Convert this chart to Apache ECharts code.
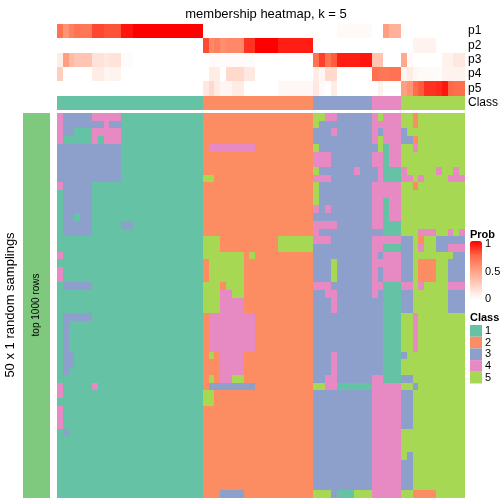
<!DOCTYPE html>
<html><head><meta charset="utf-8">
<script src="https://cdn.jsdelivr.net/npm/echarts@6/dist/echarts.min.js"></script>
<style>html,body{margin:0;padding:0;background:#fff}#c{width:504px;height:504px}</style>
</head><body><div id="c"></div>
<script>
const classColors = ['#66C2A5', '#FC8D62', '#8DA0CB', '#E78AC3', '#A6D854'];
const classLabels = ['1', '2', '3', '4', '5'];
const annRows = ['p1', 'p2', 'p3', 'p4', 'p5', 'Class'];
const probTicks = ['1', '0.5', '0'];
const probStops = ['#FFFFFF', '#FFCFBE', '#FF9E81', '#FF6846', '#FF0000'];

// membership probabilities per sample (70 samples)
const p1 = [0.7,0.55,0.65,0.7,0.68,0.68,0.83,0.83,0.8,0.8,0.8,0.95,0.95,1,1,1,1,1,1,1,1,1,1,1,1,
  0,0,0,0,0,0,0,0,0,0,0,0,0,0,0,0,0,0,0,
  0,0,0,0,0.03,0.03,0.03,0.03,0.03,0.03,
  0,0,0.5,0.4,0.4,
  0,0,0,0,0,0,0,0,0,0,0];
const p2 = [0,0,0,0,0,0,0,0,0,0,0,0,0,0,0,0,0,0,0,0,0,0,0,0,0,
  0.82,0.6,0.65,0.58,0.6,0.6,0.6,0.88,0.88,1,1,1,1,0.93,0.93,0.93,0.93,0.93,0.93,
  0,0,0,0,0,0,0,0,0,0,
  0,0,0,0,0,
  0,0,0.06,0.06,0.06,0.06,0,0,0,0,0];
const p3 = [0.1,0.5,0.35,0.3,0.3,0.3,0.15,0.15,0.12,0.15,0.15,0.02,0.02,0,0,0,0,0,0,0,0,0,0,0,0,
  0,0.02,0.02,0.02,0.02,0.02,0.02,0.02,0.02,0,0,0,0,0,0,0,0,0,0,
  0.7,0.85,0.7,0.78,0.93,0.93,0.93,0.93,0.95,0.95,
  0.3,0.3,0,0,0,
  0.45,0.03,0,0,0,0,0,0.07,0.07,0.12,0.12];
const p4 = [0.25,0,0,0,0,0,0.1,0.1,0.05,0.06,0.06,0,0,0,0,0,0,0,0,0,0,0,0,0,0,
  0,0.1,0.1,0,0.2,0.2,0.2,0.12,0.12,0,0,0,0,0,0,0,0,0,0,
  0.1,0.05,0.2,0.2,0,0,0,0,0,0,
  0.72,0.68,0.68,0.7,0.7,
  0.05,0.1,0.04,0.03,0.03,0.03,0.02,0.06,0.06,0.06,0.06];
const p5 = [0,0,0,0,0,0,0,0,0,0,0,0,0,0,0,0,0,0,0,0,0,0,0,0,0,
  0.12,0.2,0.1,0.05,0.05,0.1,0.1,0,0,0,0,0,0,0.04,0.04,0.04,0.04,0.04,0.04,
  0.12,0.03,0,0.1,0,0,0,0,0,0,
  0,0.06,0,0,0,
  0.5,0.55,0.72,0.78,0.88,0.88,0.9,0.95,0.75,0.72,0.72];
const sampleClass = [1,1,1,1,1,1,1,1,1,1,1,1,1,1,1,1,1,1,1,1,1,1,1,1,1,
  2,2,2,2,2,2,2,2,2,2,2,2,2,2,2,2,2,2,2,
  3,3,3,3,3,3,3,3,3,3,
  4,4,4,4,4,
  5,5,5,5,5,5,5,5,5,5,5];

// class assigned in each of the 50 random samplings (one digit per sample)
const samplingRows = [
  "4333334444411111111111111 2222222222222222222 5544 333333 45444 55255555555",
  "4333333343311111111111111 2222222222222222222 5333 333333 44444 55255555555",
  "4331114444411111111111111 2222222222222222222 3334 333333 43444 35555555555",
  "4111114144411111111111111 2222222222222222222 3333 333333 45444 33255555555",
  "3333333333311111111111111 2444444442222222222 5333 333333 35144 55455555555",
  "3333333333311111111111111 2222222222222222222 4443 333333 44144 55555555555",
  "3333333333311111111111111 2222222222222222222 4443 333333 44144 55555555555",
  "3333333333311111111111111 2222222222222222222 5333 333433 34111 45555545545",
  "3333333333311111111111111 5522222222222222222 4443 333333 34111 44545555444",
  "4333331111111111111111111 2222222222222222222 5333 333333 44444 55255555555",
  "1333331111111111111111111 2222222222222222222 5333 333333 44444 55555555555",
  "1333331111111111111111111 2222222222222222222 5333 333333 44144 55555555555",
  "1333331111111111111111111 2222222222222222222 4343 333333 44144 55555555555",
  "1331331111111111111111111 2222222222222222222 3333 333333 44144 55555555555",
  "1333331111133111111111111 2222222222222222222 4444 333333 44111 55555555555",
  "1333331111111111111111111 2222222222222222222 4333 333333 33111 55544455454",
  "1111111111111111111111111 5552222222222555555 4443 333333 44444 33525533333",
  "1111111111111111111111111 5552222222222555555 3333 333333 44111 33545533444",
  "4111111111111111111111111 5555555252222222222 3333 333333 43444 33555555533",
  "1111111111111111111111111 2555555222222222222 3335 333333 44444 33522255333",
  "4111111111111111111111111 2555555222222222222 3335 333333 43444 33522255333",
  "4111111111111111111111111 2555555222222222222 3335 333333 43444 33522255333",
  "1333331111111111111111111 5552555222222222222 4443 333333 44111 44545555444",
  "1111111111111111111111111 5554455222222222222 3344 333333 43111 33555555333",
  "1111111111111111111111111 5554444222222222222 3334 333333 33111 33555555333",
  "1111111111111111111111111 5554444222222222222 3334 333333 33111 33555555333",
  "1333331111111111111111111 2444444442222222222 3333 333333 33111 55455555555",
  "1311111111111111111111111 2444444442222222222 3333 333333 33111 55455555555",
  "1311111111111111111111111 2444444442222222222 3333 333333 33111 55455555555",
  "1311111111111111111111111 2444444442222222222 3333 333333 33111 55455555555",
  "1311111111111111111111111 2444444442222222222 3333 333333 33111 55455555555",
  "1331111111111111111111111 2524444222222222222 3334 333333 33111 35555555555",
  "1331111111111111111111111 2224444222222222222 3334 333333 33111 55555555555",
  "1311111111111111111111111 2224444222222222222 3334 333333 33111 55555555555",
  "1111111111111111111111111 2524455222222222222 3344 333333 44111 33555555555",
  "4111114111111111111111111 2333333332222222222 5544 111111 44444 55355555555",
  "4111111111111111111111111 5522222222222222222 3333 333333 44444 33555555555",
  "1111111111111111111111111 5522222222222222222 3333 333333 44444 33555555555",
  "4111111111111111111111111 2222222222222222222 3333 333333 44444 33555555555",
  "4111111111111111111111111 2222222222222222222 3333 333333 44444 33555555555",
  "4111111111111111111111111 2222222222222222222 3333 333333 44444 33555555555",
  "1311111111111111111111111 2222222222222222222 3333 333333 44444 55555555555",
  "1111111111111111111111111 2222222222222222222 3333 333333 44444 55555555555",
  "1111111111111111111111111 2222222222222222222 3333 333333 44444 55555555555",
  "1111111111111111111111111 2222222222222222222 3333 333333 44444 53555555555",
  "1111111111111111111111111 2222222222222222222 3333 333333 44444 33555555555",
  "1111111111111111111111111 2222222222222222222 3333 333333 44444 33555555555",
  "1111111111111111111111111 2222222222222222222 3333 333333 44444 33555555555",
  "1111111111111111111111111 2222222222222222222 3333 333333 44444 33555555555",
  "1111111111111111111111111 2223333222222222222 5553 111555 44444 55222255555"
];

const cols = sampleClass.map((_, i) => 's' + (i + 1));
const rowNames = samplingRows.map((_, i) => 'r' + (i + 1));

const probData = [];
[p1, p2, p3, p4, p5].forEach((arr, r) => arr.forEach((v, c) => probData.push([c, r, v])));
const classRowData = sampleClass.map((v, c) => [c, 5, v]);
const mainData = [];
samplingRows.forEach((s, r) => {
  const t = s.replace(/ /g, '');
  for (let c = 0; c < t.length; c++) mainData.push([c, r, +t[c]]);
});

// cell renderer: position/size come from the axes; edges snapped to whole pixels
const snap = (v) => Math.round(v + 1e-4);
function cell(params, api) {
  const p = api.coord([api.value(0), api.value(1)]);
  const s = api.size([1, 1]);
  const w = Math.abs(s[0]) / 2, hh = Math.abs(s[1]) / 2;
  const x0 = snap(p[0] - w), x1 = snap(p[0] + w);
  const y0 = snap(p[1] - hh), y1 = snap(p[1] + hh);
  return {type: 'rect', shape: {x: x0, y: y0, width: x1 - x0, height: y1 - y0},
    style: {fill: api.visual('color')}};
}
const cellSeries = (xi, yi, data) => ({
  type: 'custom', xAxisIndex: xi, yAxisIndex: yi, data: data, renderItem: cell,
  encode: {x: 0, y: 1}, silent: true
});

const FONT = 'Liberation Sans, Arial, Helvetica, sans-serif';
const hiddenCat = (data, gi, inv) => ({
  type: 'category', data: data, gridIndex: gi, inverse: !!inv,
  axisLine: {show: false}, axisTick: {show: false}, axisLabel: {show: false},
  splitLine: {show: false}
});

const chart = echarts.init(document.getElementById('c'), null, {renderer: 'canvas'});
chart.setOption({
  animation: false,
  backgroundColor: '#fff',
  title: {
    text: 'membership heatmap, k = 5', left: 261, top: 3, textAlign: 'center',
    textStyle: {fontSize: 13, fontWeight: 'normal', color: '#000', fontFamily: FONT}
  },
  grid: [
    {left: 57, top: 24, width: 408, height: 86},
    {left: 57, top: 113, width: 408, height: 385},
    {left: 23, top: 113, width: 27, height: 385}
  ],
  xAxis: [hiddenCat(cols, 0), hiddenCat(cols, 1), hiddenCat(['a'], 2)],
  yAxis: [
    {
      type: 'category', data: annRows, gridIndex: 0, inverse: true, position: 'right',
      axisLine: {show: false}, axisTick: {show: false}, splitLine: {show: false},
      axisLabel: {margin: 3, fontSize: 12, color: '#000', fontFamily: FONT, interval: 0}
    },
    hiddenCat(rowNames, 1, true),
    hiddenCat(['a'], 2)
  ],
  visualMap: [
    {
      type: 'continuous', seriesIndex: 0, dimension: 2, min: 0, max: 1, calculable: false,
      inRange: {color: probStops},
      left: 470, top: 241, itemWidth: 12, itemHeight: 58, padding: 0, text: null,
      showLabel: false, hoverLink: false
    },
    {
      type: 'piecewise', seriesIndex: [1, 2], dimension: 2, orient: 'vertical', inverse: true, align: 'left',
      pieces: classLabels.map((l, i) => ({value: i + 1, label: l, color: classColors[i]})),
      left: 470, top: 325, itemWidth: 12, itemHeight: 11.7, itemGap: 0, padding: 0,
      textGap: 3, itemSymbol: 'rect', hoverLink: false, selectedMode: false,
      textStyle: {fontSize: 11, color: '#000', fontFamily: FONT}
    },
    {
      type: 'piecewise', seriesIndex: 3, dimension: 2, show: false,
      pieces: [{value: 1, color: '#7FC97F'}]
    }
  ],
  series: [
    cellSeries(0, 0, probData),
    cellSeries(0, 0, classRowData),
    cellSeries(1, 1, mainData),
    cellSeries(2, 2, [[0, 0, 1]])
  ],
  graphic: [
    {type: 'text', x: 10, y: 305, rotation: Math.PI / 2,
      style: {text: '50 x 1 random samplings', fill: '#000', font: '13px ' + FONT,
        textAlign: 'center', textVerticalAlign: 'middle'}},
    {type: 'text', x: 36.5, y: 305, rotation: Math.PI / 2, z: 10,
      style: {text: 'top 1000 rows', fill: '#000', font: '10px ' + FONT,
        textAlign: 'center', textVerticalAlign: 'middle'}},
    {type: 'text', x: 470, y: 235, style: {text: 'Prob', fill: '#000', font: 'bold 11px ' + FONT, textVerticalAlign: 'middle'}},
    {type: 'text', x: 485, y: 244, style: {text: probTicks[0], fill: '#000', font: '11px ' + FONT, textVerticalAlign: 'middle'}},
    {type: 'text', x: 485, y: 271.5, style: {text: probTicks[1], fill: '#000', font: '11px ' + FONT, textVerticalAlign: 'middle'}},
    {type: 'text', x: 485, y: 299, style: {text: probTicks[2], fill: '#000', font: '11px ' + FONT, textVerticalAlign: 'middle'}},
    {type: 'text', x: 470, y: 318, style: {text: 'Class', fill: '#000', font: 'bold 11px ' + FONT, textVerticalAlign: 'middle'}}
  ]
});
</script>
</body></html>
